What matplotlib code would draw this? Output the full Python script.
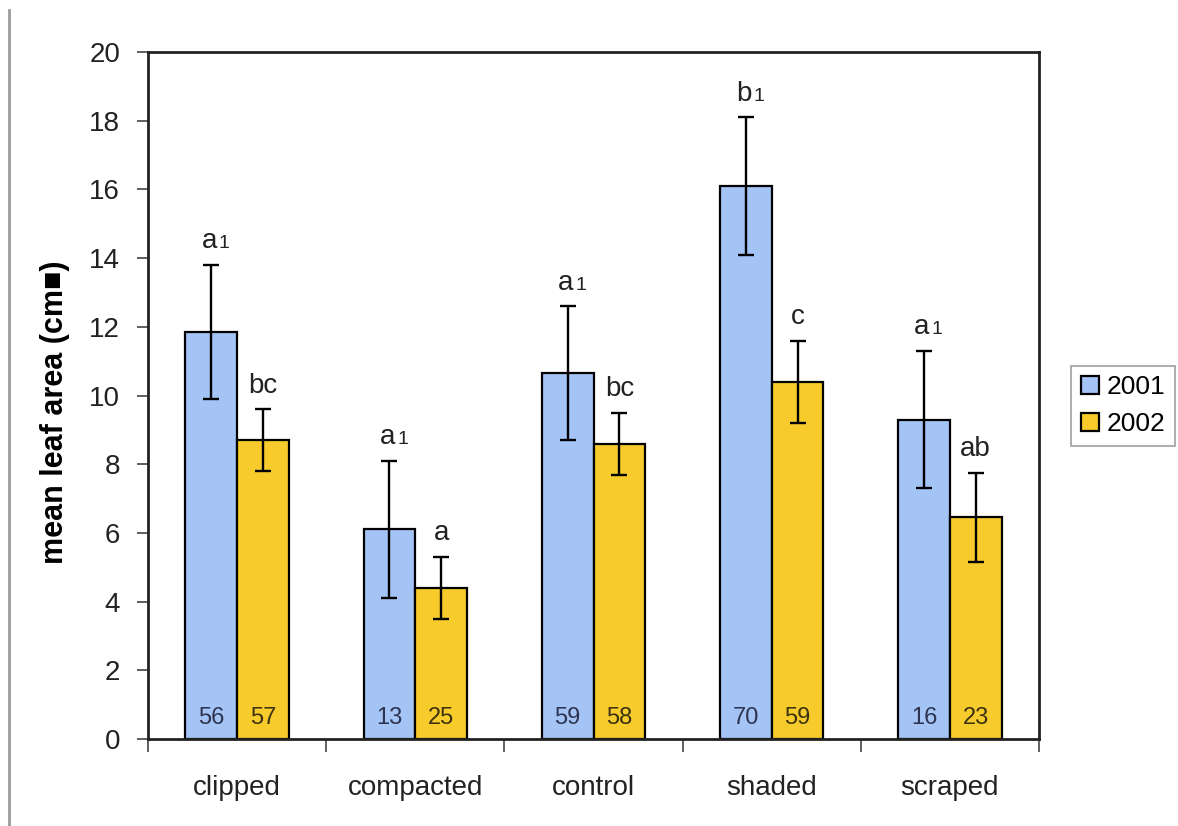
import matplotlib
matplotlib.use('Agg')
import matplotlib.pyplot as plt
import numpy as np
from matplotlib.lines import Line2D

plt.rcParams['font.family'] = ['Liberation Sans', 'DejaVu Sans']

# data
treatments = ['clipped', 'compacted', 'control', 'shaded', 'scraped']
mean_2001 = [11.85, 6.1, 10.65, 16.1, 9.3]
err_2001 = [1.95, 2.0, 1.95, 2.0, 2.0]
mean_2002 = [8.7, 4.4, 8.6, 10.4, 6.45]
err_2002 = [0.9, 0.9, 0.9, 1.2, 1.3]
n_2001 = [56, 13, 59, 70, 16]
n_2002 = [57, 25, 58, 59, 23]
letters_2001 = ['a', 'a', 'a', 'b', 'a']
letters_2002 = ['bc', 'a', 'bc', 'c', 'ab']

blue = '#a3c4f5'
gold = '#f6cb2b'

W, H = 1178, 826
fig = plt.figure(figsize=(W / 100, H / 100), dpi=100)
ax = fig.add_axes([148 / W, 1 - 739 / H, (1039 - 148) / W, (739 - 52) / H])

x = np.arange(len(treatments))
bw = 0.29

ax.bar(x - bw / 2, mean_2001, bw, color=blue, edgecolor='black', linewidth=1.6,
       label='2001', zorder=2)
ax.bar(x + bw / 2, mean_2002, bw, color=gold, edgecolor='black', linewidth=1.6,
       label='2002', zorder=2)
ax.errorbar(x - bw / 2, mean_2001, yerr=err_2001, fmt='none', ecolor='black',
            elinewidth=1.7, capsize=6, capthick=1.7, zorder=3)
ax.errorbar(x + bw / 2, mean_2002, yerr=err_2002, fmt='none', ecolor='black',
            elinewidth=1.7, capsize=6, capthick=1.7, zorder=3)

# significance letters above the error bars
for i in range(len(treatments)):
    top = mean_2001[i] + err_2001[i]
    ax.annotate(letters_2001[i], (x[i] - bw / 2, top), xytext=(4, 12),
                textcoords='offset points', ha='right', va='baseline',
                fontsize=20, color='#222222')
    ax.annotate('1', (x[i] - bw / 2, top), xytext=(5.5, 12),
                textcoords='offset points', ha='left', va='baseline',
                fontsize=14, color='#222222')
    top = mean_2002[i] + err_2002[i]
    ax.annotate(letters_2002[i], (x[i] + bw / 2, top), xytext=(0, 12),
                textcoords='offset points', ha='center', va='baseline',
                fontsize=20, color='#222222')
    # sample sizes at the bar feet
    ax.text(x[i] - bw / 2, 0.62, str(n_2001[i]), ha='center', va='center',
            fontsize=17, color='#2e3450', zorder=4)
    ax.text(x[i] + bw / 2, 0.62, str(n_2002[i]), ha='center', va='center',
            fontsize=17, color='#3d3210', zorder=4)

ax.set_xlim(-0.5, len(treatments) - 0.5)
ax.set_ylim(0, 20)
ax.set_yticks(np.arange(0, 21, 2))
ax.set_xticks(np.arange(-0.5, len(treatments), 1))
ax.set_xticklabels([])
ax.set_xticks(x, minor=True)
ax.set_xticklabels(treatments, minor=True)
ax.tick_params(axis='x', which='major', length=9, width=1.2, direction='out',
               color='#444444')
ax.tick_params(axis='x', which='minor', length=0, pad=26, labelsize=20,
               labelcolor='#222222')
ax.tick_params(axis='y', length=8, width=1.2, pad=12, labelsize=20,
               labelcolor='#222222', color='#444444')
for s in ax.spines.values():
    s.set_linewidth(2)
    s.set_color('#222222')

ax.set_ylabel('mean leaf area (cm\u25a0)', fontsize=22, fontweight='bold')
ax.yaxis.set_label_coords(-0.088, 0.475)

leg = fig.legend(loc='upper right', bbox_to_anchor=(1175 / W, 1 - 366 / H),
                 fontsize=19, frameon=True, fancybox=False, handlelength=0.7,
                 handleheight=0.7, handletextpad=0.3, borderpad=0.35,
                 labelspacing=0.5, borderaxespad=0)
leg.get_frame().set_edgecolor('#888888')
leg.get_frame().set_linewidth(1.2)

# grey rule along the left edge of the page
fig.add_artist(Line2D([9 / W, 9 / W], [0, 1 - 10 / H], transform=fig.transFigure,
                      color='#9a9a9a', linewidth=2))

fig.savefig('out.png', dpi=100)
